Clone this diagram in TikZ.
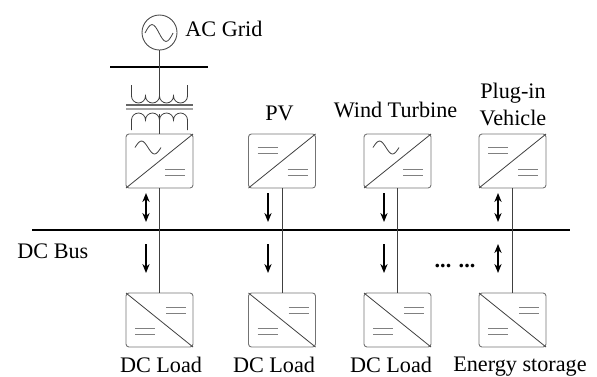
\documentclass[tikz,border=0pt]{standalone}
\usepackage{fontspec}
\setmainfont{Liberation Serif}
\usetikzlibrary{positioning,arrows.meta}
\tikzset{
    conv/.style={draw=black!55,line width=.45pt,rounded corners=1.5pt,minimum width=33.5pt,minimum height=27pt,inner sep=0pt,outer sep=0pt},
    lbl/.style={font=\fontsize{11.1}{13.5}\selectfont,inner sep=0pt,align=center,anchor=base},
    wire/.style={line width=.4pt,black!75},
    busline/.style={line width=1pt},
    flow/.style={line width=.65pt,-{Stealth[length=4.5pt,width=3.6pt]}},
    flowboth/.style={line width=.65pt,{Stealth[length=4.5pt,width=3.6pt]}-{Stealth[length=4.5pt,width=3.6pt]}},
    sinewave/.pic={\draw [wire] (0,0) sin (6.5,6.5) cos (13,0) sin (19.5,-6.5) cos (26,0);},
    dcmark/.pic={\draw [line width=.4pt,black!50] (0,0) -- (20,0) (0,-6) -- (20,-6);}
}
\begin{document}
\begin{tikzpicture}[x=.5pt,y=.5pt]
    \useasboundingbox (0,0) rectangle (597,-376);
    % top row
    \node [conv] (c1) at (159.5,-161) {};
    \node [conv,right=27.75pt of c1] (c2) {};
    \node [conv,right=24.25pt of c2] (c3) {};
    \node [conv,right=24pt of c3] (c4) {};
    % bottom row
    \node [conv,below=52.5pt of c1] (l1) {};
    \node [conv,below=52.5pt of c2] (l2) {};
    \node [conv,below=52.5pt of c3] (l3) {};
    \node [conv,below=52.5pt of c4] (l4) {};
    % grid and transformer
    \node [draw=black!70,line width=.45pt,circle,minimum size=17.5pt,inner sep=0pt,outer sep=0pt] (grid) at (159.5,-32.5) {};
    \node [lbl,anchor=base west] (gridlbl) at (185,-36) {AC Grid};
    \coordinate (g1) at (110,-67);
    \coordinate (g2) at (208,-67);
    \coordinate (gmid) at (159.5,-67);
    \coordinate (tu) at (159.5,-98);
    \coordinate (tl) at (159.5,-114);
    \coordinate (b1) at (126,-105);
    \coordinate (b2) at (193,-105);
    \coordinate (b3) at (126,-109);
    \coordinate (b4) at (193,-109);
    \draw [busline] (g1) -- (g2);
    \draw [wire] (grid) -- (gmid) -- (tu);
    \draw [line width=.55pt,black!60] (b1) -- (b2);
    \draw [line width=.55pt,black!35] (b3) -- (b4);
    \draw [wire] (tl) -- (c1);
    \draw [wire] (131.5,-85) -- (131.5,-96) \foreach \i in {1,...,4} {arc [start angle=180,end angle=360,radius=3.5pt]} -- (187.5,-85);
    \draw [wire] (131.5,-130) -- (131.5,-120) \foreach \i in {1,...,4} {arc [start angle=180,end angle=0,radius=3.5pt]} -- (187.5,-130);
    % dc bus
    \coordinate (bus1) at (32,-230);
    \coordinate (bus2) at (570,-230);
    \draw [busline] (bus1) -- (bus2);
    \node [lbl,anchor=base west] (buslbl) at (17,-258) {DC Bus};
    % links
    \foreach \a/\b in {c1/l1,c2/l2,c3/l3,c4/l4}
        \draw [wire] (\a) -- (\b);
    % box marks
    \foreach \a in {c1,c2,c3,c4} {
        \draw [wire] (\a.south west) -- (\a.north east);
        \pic at ([xshift=19.5pt,yshift=-17.5pt]\a.north west) {dcmark};
    }
    \foreach \a in {l1,l2,l3,l4} {
        \draw [wire] (\a.north west) -- (\a.south east);
        \pic at ([xshift=20pt,yshift=-7pt]\a.north west) {dcmark};
        \pic at ([xshift=4.5pt,yshift=-17.5pt]\a.north west) {dcmark};
    }
    \foreach \a in {c1,c3}
        \pic at ([xshift=4.5pt,yshift=-6.75pt]\a.north west) {sinewave};
    \foreach \a in {c2,c4}
        \pic at ([xshift=4.5pt,yshift=-6.5pt]\a.north west) {dcmark};
    \pic [xscale=1.08,yscale=1.3] at (145,-33) {sinewave};
    % arrows
    \foreach \n/\x in {1/146,2/268,3/384,4/498} {
        \coordinate (u\n a) at (\x,-193);
        \coordinate (u\n b) at (\x,-222);
        \coordinate (d\n a) at (\x,-244);
        \coordinate (d\n b) at (\x,-273);
    }
    \draw [flowboth] (u1a) -- (u1b);
    \draw [flow] (u2a) -- (u2b);
    \draw [flow] (u3a) -- (u3b);
    \draw [flowboth] (u4a) -- (u4b);
    \draw [flow] (d1a) -- (d1b);
    \draw [flow] (d2a) -- (d2b);
    \draw [flow] (d3a) -- (d3b);
    \draw [flowboth] (d4a) -- (d4b);
    \node [lbl,font=\fontsize{11.1}{13.5}\selectfont\bfseries] (dots) at (455,-267) {... ...};
    % labels
    \node [lbl] (pv) at (279.5,-120.5) {PV};
    \node [lbl] (wt) at (395.5,-117) {Wind Turbine};
    \node [lbl] (pi) at (513,-125) {Plug-in\\Vehicle};
    \node [lbl] (dl1) at (161,-372) {DC Load};
    \node [lbl] (dl2) at (274,-372) {DC Load};
    \node [lbl] (dl3) at (391,-372) {DC Load};
    \node [lbl] (es) at (520,-371) {Energy storage};
\end{tikzpicture}
\end{document}
